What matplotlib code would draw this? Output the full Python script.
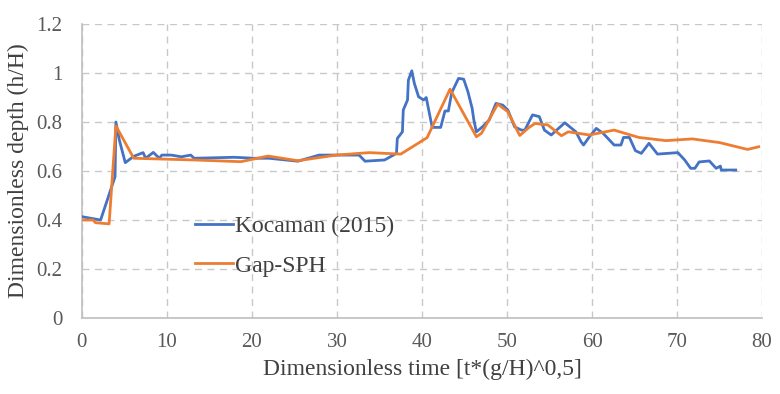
import matplotlib
matplotlib.use("Agg")
import matplotlib.pyplot as plt

# Kocaman (2015) experimental data
koc_t = [0.07, 2.2, 3.9, 4.0, 4.4, 5.1, 6.1, 7.2, 7.5, 8.4, 9.1, 9.4, 10.5, 11.7, 12.8, 13.2,
         17.9, 20.3, 22.0, 25.4, 27.9, 32.6, 33.3, 35.6, 37.0, 37.1, 37.7, 37.8, 38.3, 38.4,
         38.8, 39.1, 39.6, 40.2, 40.5, 41.2, 42.2, 42.7, 43.1, 43.5, 44.3, 44.9, 45.4, 45.9,
         46.1, 46.4, 47.1, 47.9, 48.7, 49.5, 50.1, 50.9, 51.7, 52.1, 53.0, 53.8, 54.4, 55.2,
         56.8, 58.1, 58.7, 59.0, 59.7, 60.5, 61.3, 62.6, 63.4, 63.7, 64.4, 65.1, 65.8, 66.7,
         67.7, 70.1, 70.9, 71.6, 72.1, 72.6, 73.8, 74.6, 75.1, 75.2, 76.9]
koc_h = [0.413, 0.400, 0.577, 0.800, 0.727, 0.634, 0.660, 0.675, 0.652, 0.676, 0.652, 0.665,
         0.665, 0.658, 0.665, 0.652, 0.656, 0.652, 0.652, 0.640, 0.665, 0.665, 0.640, 0.645,
         0.672, 0.733, 0.760, 0.849, 0.890, 0.971, 1.009, 0.958, 0.903, 0.890, 0.900, 0.778,
         0.778, 0.845, 0.845, 0.920, 0.978, 0.975, 0.924, 0.856, 0.808, 0.760, 0.780, 0.808,
         0.876, 0.869, 0.849, 0.780, 0.767, 0.767, 0.829, 0.822, 0.767, 0.747, 0.797, 0.760,
         0.720, 0.706, 0.740, 0.774, 0.754, 0.706, 0.706, 0.737, 0.737, 0.683, 0.672, 0.713,
         0.669, 0.675, 0.645, 0.611, 0.611, 0.637, 0.641, 0.611, 0.620, 0.604, 0.604]

# Gap-SPH simulation
sph_t = [0.2, 1.3, 1.6, 3.2, 4.0, 6.1, 13.2, 18.7, 21.9, 25.4, 29.9, 33.8, 37.5, 40.6, 43.3,
         46.4, 47.0, 48.9, 50.1, 51.5, 52.6, 53.3, 54.8, 56.4, 57.2, 59.7, 62.6, 65.5, 68.7,
         71.8, 75.0, 78.3, 79.6]
sph_h = [0.400, 0.400, 0.389, 0.384, 0.784, 0.652, 0.645, 0.638, 0.661, 0.642, 0.665, 0.675,
         0.669, 0.736, 0.934, 0.740, 0.754, 0.873, 0.842, 0.745, 0.778, 0.794, 0.788, 0.744,
         0.760, 0.747, 0.767, 0.737, 0.724, 0.731, 0.716, 0.688, 0.699]

x_ticks = [0, 10, 20, 30, 40, 50, 60, 70, 80]
y_ticks = [0, 0.2, 0.4, 0.6, 0.8, 1.0, 1.2]
y_tick_labels = ["0", "0.2", "0.4", "0.6", "0.8", "1", "1.2"]

plt.rcParams['font.family'] = ['Liberation Serif', 'DejaVu Serif']

fig = plt.figure(figsize=(7.8, 3.94), dpi=100)
ax = fig.add_axes([0.105, 0.193, 0.872, 0.746])

ax.plot(koc_t, koc_h, color="#4472C4", lw=2.0, label="Kocaman (2015)", zorder=3)
ax.plot(sph_t, sph_h, color="#ED7D31", lw=2.0, label="Gap-SPH", zorder=4)

ax.set_xlim(0, 80)
ax.set_ylim(0, 1.2)
ax.set_xticks(x_ticks)
ax.set_yticks(y_ticks)
ax.set_yticklabels(y_tick_labels)
ax.grid(True, color="#C8C8C8", linestyle=(0, (5, 4)), linewidth=1.0)
ax.set_axisbelow(True)
for s in ["top", "right"]:
    ax.spines[s].set_visible(False)
for s in ["left", "bottom"]:
    ax.spines[s].set_color("#BFBFBF")
    ax.spines[s].set_linewidth(1.2)
ax.tick_params(axis="both", length=0, labelsize=15, labelcolor="#595959")
ax.tick_params(axis="x", pad=11)
ax.tick_params(axis="y", pad=14)

ax.set_xlabel("Dimensionless time [t*(g/H)^0,5]", fontsize=17, color="#404040", labelpad=5)
ax.set_ylabel("Dimensionless depth (h/H)", fontsize=17, color="#404040", labelpad=5)

leg = ax.legend(loc="upper left", bbox_to_anchor=(0.135, 0.42), frameon=False,
                fontsize=17, handlelength=1.6, handletextpad=0.1, labelspacing=0.75,
                labelcolor="#404040")

fig.savefig("out.png", dpi=100)
